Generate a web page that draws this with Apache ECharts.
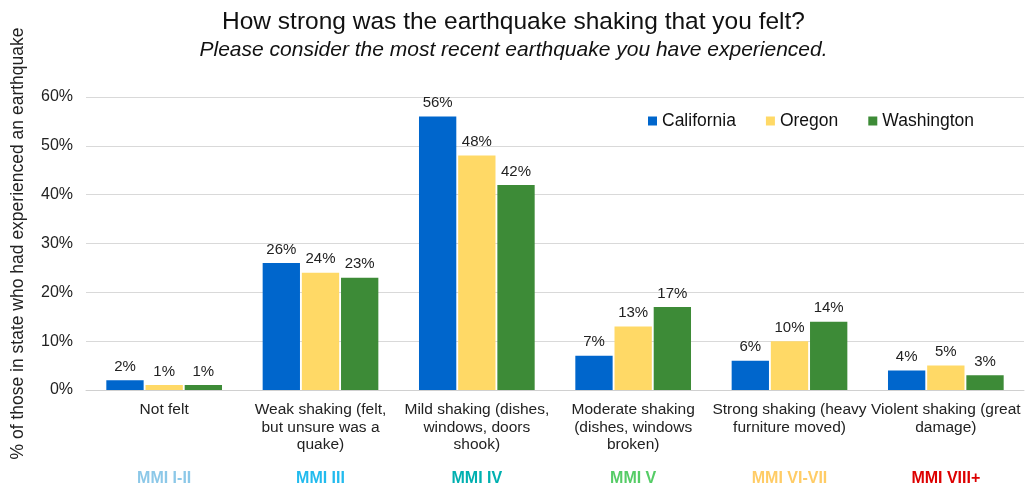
<!DOCTYPE html>
<html>
<head>
<meta charset="utf-8">
<script src="https://cdn.jsdelivr.net/npm/echarts@6/dist/echarts.min.js"></script>
<style>
  html, body { margin: 0; padding: 0; background: #fff; }
  #chart { width: 1027px; height: 488px; }
</style>
</head>
<body>
<div id="chart"></div>
<script>
// Shaking categories (wrapped as shown under each group)
const categories = [
  'Not felt',
  'Weak shaking (felt,\nbut unsure was a\nquake)',
  'Mild shaking (dishes,\nwindows, doors\nshook)',
  'Moderate shaking\n(dishes, windows\nbroken)',
  'Strong shaking (heavy\nfurniture moved)',
  'Violent shaking (great\ndamage)'
];

// Modified Mercalli Intensity band for each category
const mmiLabels = ['MMI I-II', 'MMI III', 'MMI IV', 'MMI V', 'MMI VI-VII', 'MMI VIII+'];
const mmiColors = ['#8cc8e8', '#22bbee', '#00b0b0', '#55cc66', '#ffcc66', '#dd0000'];

// Percent of respondents in each state
const california = [2, 26, 56, 7, 6, 4];
const oregon     = [1, 24, 48, 13, 10, 5];
const washington = [1, 23, 42, 17, 14, 3];

const yTicks = { min: 0, max: 60, interval: 10 };

const font = 'Liberation Sans, Arial, sans-serif';

function barSeries(name, data, color) {
  return {
    name: name,
    type: 'bar',
    data: data,
    xAxisIndex: 0,
    barGap: '5%',
    barCategoryGap: '26%',
    itemStyle: { color: color },
    label: {
      show: true,
      position: 'top',
      distance: 6,
      formatter: '{c}%',
      fontFamily: font,
      fontSize: 15,
      color: '#222'
    }
  };
}

const chart = echarts.init(document.getElementById('chart'), null, { renderer: 'canvas' });

chart.setOption({
  backgroundColor: '#ffffff',
  animation: false,
  title: {
    text: 'How strong was the earthquake shaking that you felt?',
    subtext: 'Please consider the most recent earthquake you have experienced.',
    left: 'center',
    top: 5,
    itemGap: 5,
    textStyle: { fontFamily: font, fontSize: 24.5, fontWeight: 'normal', color: '#111' },
    subtextStyle: { fontFamily: font, fontSize: 21, fontStyle: 'italic', color: '#111' }
  },
  legend: {
    left: 643,
    top: 107,
    icon: 'rect',
    itemWidth: 9,
    itemHeight: 9,
    itemGap: 30,
    textStyle: { fontFamily: font, fontSize: 17.5, color: '#111' },
    data: ['California', 'Oregon', 'Washington']
  },
  grid: { left: 86, right: 3, top: 97, bottom: 98, containLabel: false },
  xAxis: [
    {
      type: 'category',
      data: categories,
      axisTick: { show: false },
      axisLine: { show: true, lineStyle: { color: '#d0d0d0', width: 1 } },
      axisLabel: {
        interval: 0,
        margin: 11,
        fontFamily: font,
        fontSize: 15.5,
        lineHeight: 17.5,
        color: '#222'
      }
    },
    {
      type: 'category',
      position: 'bottom',
      offset: 70,
      data: mmiLabels,
      axisTick: { show: false },
      axisLine: { show: false },
      splitLine: { show: false },
      axisLabel: {
        interval: 0,
        margin: 11,
        fontFamily: font,
        fontSize: 16,
        fontWeight: 'bold',
        color: function (value, index) { return mmiColors[index]; }
      }
    }
  ],
  yAxis: {
    type: 'value',
    min: yTicks.min,
    max: yTicks.max,
    interval: yTicks.interval,
    name: '% of those in state who had experienced an earthquake',
    nameLocation: 'middle',
    nameGap: 59,
    nameTextStyle: { fontFamily: font, fontSize: 17.5, color: '#222' },
    axisLine: { show: false },
    axisTick: { show: false },
    axisLabel: {
      formatter: '{value}%',
      margin: 13,
      fontFamily: font,
      fontSize: 16,
      color: '#222'
    },
    splitLine: { lineStyle: { color: '#d9d9d9', width: 1 } }
  },
  series: [
    barSeries('California', california, '#0066cc'),
    barSeries('Oregon', oregon, '#ffd966'),
    barSeries('Washington', washington, '#3d8b37')
  ]
});
</script>
</body>
</html>
